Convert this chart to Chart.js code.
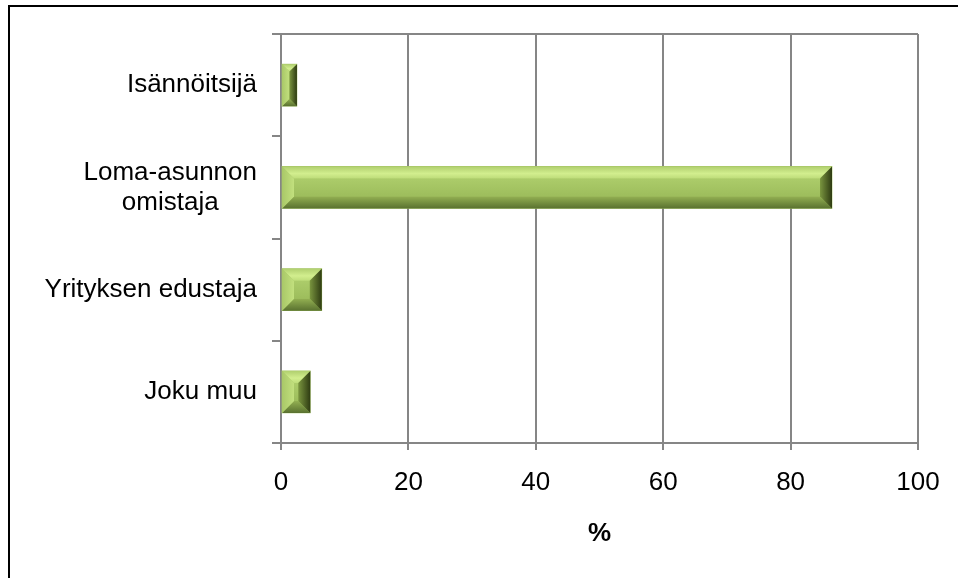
<!DOCTYPE html>
<html>
<head>
<meta charset="utf-8">
<script src="https://cdn.jsdelivr.net/npm/chart.js@4.4.0/dist/chart.umd.min.js"></script>
<style>
  body { margin: 0; background: #fff; overflow: hidden; }
  #wrap { position: relative; width: 958px; height: 578px; }
  #frame {
    position: absolute; left: 8px; top: 5px; width: 1000px; height: 1000px;
    border-left: 2px solid #000; border-top: 2px solid #000; pointer-events: none;
  }
</style>
</head>
<body>
<div id="wrap">
  <canvas id="chart" width="958" height="578"></canvas>
  <div id="frame"></div>
</div>
<script>
// Datos
const categories = [["Isännöitsijä"], ["Loma-asunnon", "omistaja"], ["Yrityksen edustaja"], ["Joku muu"]];
const values = [2.5, 86.5, 6.4, 4.6];
const xMin = 0;
const xMax = 100;
const xStep = 20;
const xTitle = "%";

const FONT = "'Liberation Sans', Arial, sans-serif";
const GRID = "#868686";

// Etiquetas del eje Y (texto multilínea centrado)
const yLabels = {
  id: "yLabels",
  afterDraw(chart) {
    const ctx = chart.ctx;
    const y = chart.scales.y;
    const right = y.right - 24;
    ctx.save();
    ctx.font = "26px " + FONT;
    ctx.fillStyle = "#000";
    ctx.textBaseline = "middle";
    ctx.textAlign = "center";
    categories.forEach((lines, i) => {
      const cy = y.getPixelForValue(i);
      const w = Math.max(...lines.map((l) => ctx.measureText(l).width));
      const cx = right - w / 2;
      lines.forEach((l, j) => {
        ctx.fillText(l, cx, cy + (j - (lines.length - 1) / 2) * 30);
      });
    });
    ctx.restore();
  },
};

// Línea superior del área del gráfico
const topLine = {
  id: "topLine",
  beforeDatasetsDraw(chart) {
    const { ctx, chartArea } = chart;
    ctx.save();
    ctx.strokeStyle = GRID;
    ctx.lineWidth = 2;
    ctx.beginPath();
    ctx.moveTo(chartArea.left, chartArea.top);
    ctx.lineTo(chartArea.right, chartArea.top);
    ctx.stroke();
    ctx.restore();
  },
};

function poly(ctx, pts, fill) {
  ctx.beginPath();
  ctx.moveTo(pts[0][0], pts[0][1]);
  for (let k = 1; k < pts.length; k++) ctx.lineTo(pts[k][0], pts[k][1]);
  ctx.closePath();
  ctx.fillStyle = fill;
  ctx.fill();
}

// Efecto bisel en las barras
const bevel = {
  id: "bevel",
  afterDatasetsDraw(chart) {
    const ctx = chart.ctx;
    chart.getDatasetMeta(0).data.forEach((bar) => {
      const p = bar.getProps(["x", "y", "base", "height"], true);
      const l = Math.min(p.base, p.x), r = Math.max(p.base, p.x);
      const t = p.y - p.height / 2, b = p.y + p.height / 2;
      const d = Math.min(12, (r - l) / 2, (b - t) / 2);
      ctx.save();

      const face = ctx.createLinearGradient(0, t + d, 0, b - d);
      face.addColorStop(0, "#accc6a");
      face.addColorStop(1, "#9dbd5c");
      poly(ctx, [[l + d, t + d], [r - d, t + d], [r - d, b - d], [l + d, b - d]], face);

      const top = ctx.createLinearGradient(0, t, 0, t + d);
      top.addColorStop(0, "#b0cf6e");
      top.addColorStop(0.6, "#d2ee8e");
      top.addColorStop(1, "#bedd7a");
      poly(ctx, [[l, t], [r, t], [r - d, t + d], [l + d, t + d]], top);

      const bot = ctx.createLinearGradient(0, b - d, 0, b);
      bot.addColorStop(0, "#93b052");
      bot.addColorStop(1, "#5a7230");
      poly(ctx, [[l + d, b - d], [r - d, b - d], [r, b], [l, b]], bot);

      const left = ctx.createLinearGradient(l, 0, l + d, 0);
      left.addColorStop(0, "#a9c868");
      left.addColorStop(1, "#c2e07e");
      poly(ctx, [[l, t], [l + d, t + d], [l + d, b - d], [l, b]], left);

      const rt = ctx.createLinearGradient(r - d, 0, r, 0);
      rt.addColorStop(0, "#7a953f");
      rt.addColorStop(1, "#2e3b12");
      poly(ctx, [[r - d, t + d], [r, t], [r, b], [r - d, b - d]], rt);

      ctx.restore();
    });
  },
};

const ctx = document.getElementById("chart").getContext("2d");
new Chart(ctx, {
  type: "bar",
  data: {
    labels: categories.map((c) => c.join(" ")),
    datasets: [
      {
        data: values,
        backgroundColor: "#a5c564",
        borderWidth: 0,
        barThickness: 42,
      },
    ],
  },
  options: {
    indexAxis: "y",
    responsive: false,
    animation: false,
    layout: { padding: { top: 34, right: 40, left: 0, bottom: 0 } },
    plugins: {
      legend: { display: false },
      tooltip: { enabled: false },
    },
    scales: {
      x: {
        min: xMin,
        max: xMax,
        ticks: {
          stepSize: xStep,
          color: "#000",
          padding: 17,
          font: { family: FONT, size: 26 },
        },
        grid: { color: GRID, lineWidth: 2, tickLength: 7 },
        border: { color: GRID, width: 2 },
        title: {
          display: true,
          text: xTitle,
          color: "#000",
          font: { family: FONT, size: 26, weight: "bold" },
          padding: { top: 0, bottom: 29 },
        },
        afterFit(scale) {
          scale.height = 135;
        },
      },
      y: {
        ticks: { display: false },
        grid: { color: GRID, lineWidth: 2, tickLength: 9, offset: true, drawOnChartArea: false },
        border: { color: GRID, width: 2 },
        afterFit(scale) {
          scale.width = 281;
        },
      },
    },
  },
  plugins: [topLine, bevel, yLabels],
});
</script>
</body>
</html>
